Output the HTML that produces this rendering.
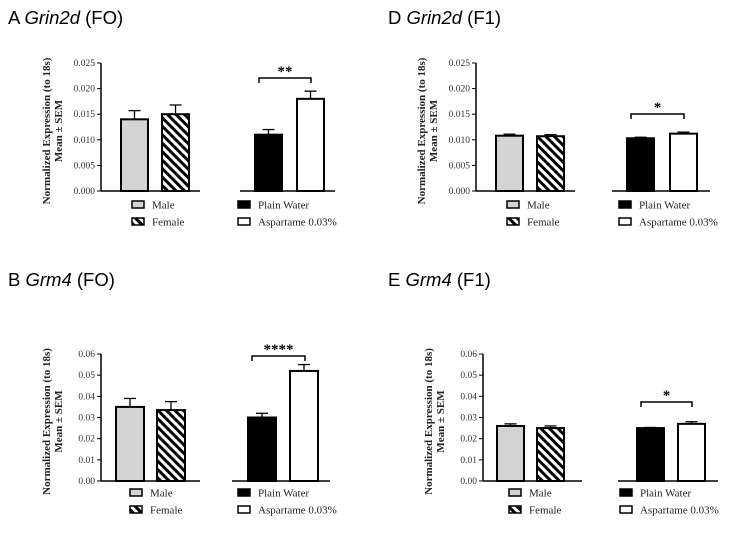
<!DOCTYPE html>
<html><head><meta charset="utf-8"><style>
body{margin:0;background:#fff;}
svg text{font-family:"Liberation Serif",serif;}
.t{font-family:"Liberation Sans",sans-serif;font-size:18.5px;}
</style></head><body>
<svg id="c" width="733" height="534" viewBox="0 0 733 534" xmlns="http://www.w3.org/2000/svg">
<defs><pattern id="hatch" patternUnits="userSpaceOnUse" width="6" height="6" patternTransform="rotate(-45)">
<rect width="6" height="6" fill="#fff"/><rect width="3" height="6" fill="#000"/></pattern></defs>
<text class="t" x="8" y="24">A <tspan font-style="italic">Grin2d</tspan> (FO)</text>
<text class="t" x="8" y="286">B <tspan font-style="italic">Grm4</tspan> (FO)</text>
<text class="t" x="388" y="24">D <tspan font-style="italic">Grin2d</tspan> (F1)</text>
<text class="t" x="388" y="286">E <tspan font-style="italic">Grm4</tspan> (F1)</text>
</svg>
<script>
const groups=["Male","Female","Plain Water","Aspartame 0.03%"];
const valsA=[0.014,0.015,0.011,0.018];
const errA=[0.0017,0.0018,0.001,0.0015];
const valsD=[0.0108,0.0107,0.0103,0.0112];
const errD=[0.0003,0.0003,0.0002,0.0003];
const valsB=[0.035,0.0335,0.030,0.052];
const errB=[0.004,0.004,0.002,0.003];
const valsE=[0.026,0.025,0.025,0.027];
const errE=[0.001,0.001,0.0003,0.001];
const ticks025=[0,0.005,0.010,0.015,0.020,0.025];
const ticks06=[0,0.01,0.02,0.03,0.04,0.05,0.06];
const stars=["**","*","****","*"];
const NS="http://www.w3.org/2000/svg";
const svg=document.getElementById('c');
function el(tag,attrs,parent){const e=document.createElementNS(NS,tag);for(const k in attrs)e.setAttribute(k,attrs[k]);(parent||svg).appendChild(e);return e;}
const panels=[
 {id:'a',vals:valsA,err:errA,ticks:ticks025,dec:3,ax:101,top:63,bot:191,lx:[121,162],rx:[255,297],bw:27,rb:[240,335],lb:200,br:78,star:stars[0],legL:132,legR:238,ly:205},
 {id:'d',vals:valsD,err:errD,ticks:ticks025,dec:3,ax:476,top:63,bot:191,lx:[496,537],rx:[627,670],bw:27,rb:[612,710],lb:575,br:114,star:stars[1],legL:507,legR:619,ly:205},
 {id:'b',vals:valsB,err:errB,ticks:ticks06,dec:2,ax:101,top:354,bot:481,lx:[116,157],rx:[248,290],bw:28,rb:[232,330],lb:200,br:356,star:stars[2],legL:130,legR:238,ly:493},
 {id:'e',vals:valsE,err:errE,ticks:ticks06,dec:2,ax:483,top:354,bot:481,lx:[497,537],rx:[637,678],bw:27,rb:[618,718],lb:582,br:402,star:stars[3],legL:509,legR:620,ly:493}
];
const fills=["#d3d3d3","url(#hatch)","#000","#fff"];
panels.forEach(p=>{
 const g=el('g',{});
 
 
 const mx=p.ticks[p.ticks.length-1];
 const y=v=>p.bot-(v/mx)*(p.bot-p.top);
 const ya=el('line',{x1:p.ax,x2:p.ax,y1:p.top,y2:p.bot,stroke:'#000','stroke-width':1.5},g);
 
 
 el('line',{x1:p.ax,x2:p.lb,y1:p.bot,y2:p.bot,stroke:'#000','stroke-width':1.5},g);
 el('line',{x1:p.rb[0],x2:p.rb[1],y1:p.bot,y2:p.bot,stroke:'#000','stroke-width':1.5},g);
 p.ticks.forEach(t=>{
  el('line',{x1:p.ax-4,x2:p.ax,y1:y(t),y2:y(t),stroke:'#000'},g);
  const tx=el('text',{x:p.ax-6,y:y(t)+3,'text-anchor':'end','font-size':9.5,fill:'#333'},g);
  tx.textContent=t.toFixed(p.dec);
  
  
 });
 const cx=(p.ax-51);const cy=(p.top+p.bot)/2+4;
 const yl=el('text',{transform:`translate(${cx},${cy}) rotate(-90)`,'text-anchor':'middle','font-size':11,'font-weight':'bold',fill:'#222'},g);
 
 
 const s1=el('tspan',{x:0,y:0},yl);s1.textContent='Normalized Expression (to 18s)';
 const s2=el('tspan',{x:0,y:12},yl);s2.textContent='Mean \u00b1 SEM';
 const xs=[p.lx[0],p.lx[1],p.rx[0],p.rx[1]];
 p.vals.forEach((v,i)=>{
  const x0=xs[i],xc=x0+p.bw/2,ye=y(v+p.err[i]);
  el('line',{x1:xc,x2:xc,y1:y(v),y2:ye,stroke:'#000','stroke-width':1.3},g);
  el('line',{x1:xc-6,x2:xc+6,y1:ye,y2:ye,stroke:'#000','stroke-width':1.3},g);
  const r=el('rect',{x:x0,y:y(v),width:p.bw,height:p.bot-y(v),fill:fills[i],stroke:'#000','stroke-width':2},g);
  
  
 });
 const b0=p.rx[0]+4,b1=p.rx[1]+p.bw-13;
 const br=el('path',{d:`M${b0} ${p.br+5}V${p.br}H${b1}V${p.br+5}`,fill:'none',stroke:'#000','stroke-width':1.5},g);
 
 
 const st=el('text',{x:(b0+b1)/2,y:p.br-2,'text-anchor':'middle','font-size':15,'font-weight':'bold','font-family':'Liberation Sans, sans-serif'},g);
 st.textContent=p.star;
 
 
 [[p.legL,0],[p.legL,1],[p.legR,2],[p.legR,3]].forEach(([lx,i])=>{
  const ly=p.ly+(i%2)*17;
  const le=el('g',{},g);
  
  
  el('rect',{x:lx,y:ly-4,width:12,height:7,fill:fills[i],stroke:'#000','stroke-width':1.5},le);
  const lt=el('text',{x:lx+20,y:ly+3.5,'font-size':11,fill:'#222'},le);
  lt.textContent=groups[i];
 });
});
</script>
</body></html>
